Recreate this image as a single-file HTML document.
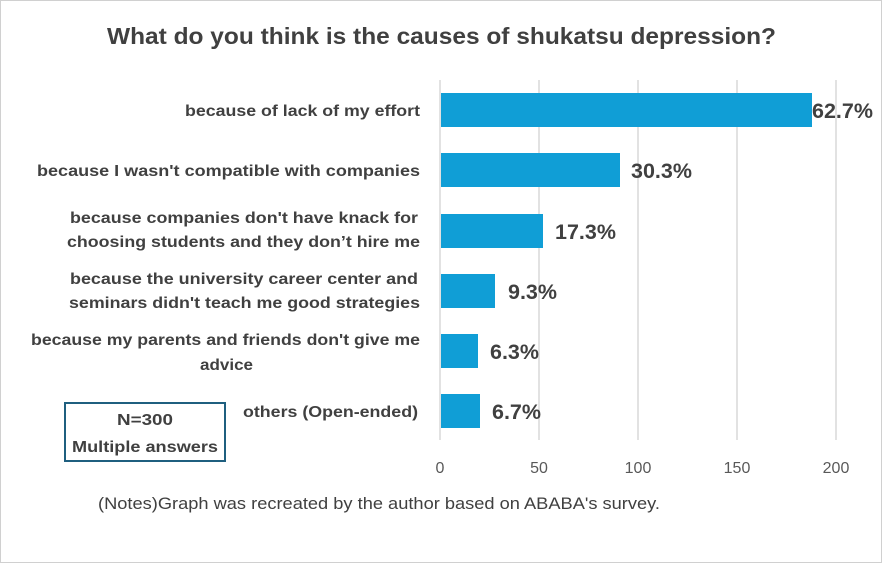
<!DOCTYPE html>
<html><head><meta charset="utf-8"><style>
body{margin:0;background:#fff}
svg{display:block}
text{font-family:"Liberation Sans",sans-serif}
</style></head><body>
<svg width="882" height="563" xmlns="http://www.w3.org/2000/svg">
<rect x="0.5" y="0.5" width="881" height="562" fill="#fff" stroke="#d0d0d0"/>
<text x="107" y="44" font-size="23" font-weight="bold" fill="#404040" textLength="669" lengthAdjust="spacingAndGlyphs">What do you think is the causes of shukatsu depression?</text>
<g stroke="#d9d9d9" stroke-width="1.5">
<line x1="440" y1="80" x2="440" y2="440"/>
<line x1="539" y1="80" x2="539" y2="440"/>
<line x1="638" y1="80" x2="638" y2="440"/>
<line x1="737" y1="80" x2="737" y2="440"/>
<line x1="836" y1="80" x2="836" y2="440"/>
</g>
<g fill="#109ed6">
<rect x="441" y="93" width="371" height="34"/>
<rect x="441" y="153" width="179" height="34"/>
<rect x="441" y="214" width="102" height="34"/>
<rect x="441" y="274" width="54" height="34"/>
<rect x="441" y="334" width="37" height="34"/>
<rect x="441" y="394" width="39" height="34"/>
</g>
<g font-size="21.5" font-weight="bold" fill="#404040">
<text x="812" y="118">62.7%</text>
<text x="631" y="178">30.3%</text>
<text x="555" y="239">17.3%</text>
<text x="508" y="299">9.3%</text>
<text x="490" y="359">6.3%</text>
<text x="492" y="419">6.7%</text>
</g>
<g font-size="16" font-weight="bold" fill="#404040">
<text x="185" y="116" textLength="235" lengthAdjust="spacingAndGlyphs">because of lack of my effort</text>
<text x="37" y="176" textLength="383" lengthAdjust="spacingAndGlyphs">because I wasn't compatible with companies</text>
<text x="70" y="223" textLength="348" lengthAdjust="spacingAndGlyphs">because companies don't have knack for</text>
<text x="67" y="247" textLength="353" lengthAdjust="spacingAndGlyphs">choosing students and they don’t hire me</text>
<text x="70" y="284" textLength="348" lengthAdjust="spacingAndGlyphs">because the university career center and</text>
<text x="69" y="308" textLength="351" lengthAdjust="spacingAndGlyphs">seminars didn't teach me good strategies</text>
<text x="31" y="345" textLength="389" lengthAdjust="spacingAndGlyphs">because my parents and friends don't give me</text>
<text x="200" y="370" textLength="53" lengthAdjust="spacingAndGlyphs">advice</text>
<text x="243" y="417" textLength="175" lengthAdjust="spacingAndGlyphs">others (Open-ended)</text>
</g>
<g font-size="16" fill="#595959" text-anchor="middle">
<text x="440" y="473">0</text>
<text x="539" y="473">50</text>
<text x="638" y="473">100</text>
<text x="737" y="473">150</text>
<text x="836" y="473">200</text>
</g>
<text x="98" y="509" font-size="17" fill="#404040" textLength="562" lengthAdjust="spacingAndGlyphs">(Notes)Graph was recreated by the author based on ABABA's survey.</text>
<rect x="65" y="403" width="160" height="58" fill="#fff" stroke="#1f5f7f" stroke-width="2"/>
<g font-size="16" font-weight="bold" fill="#404040">
<text x="117" y="425" textLength="56" lengthAdjust="spacingAndGlyphs">N=300</text>
<text x="72" y="452" textLength="146" lengthAdjust="spacingAndGlyphs">Multiple answers</text>
</g>
</svg>
</body></html>
